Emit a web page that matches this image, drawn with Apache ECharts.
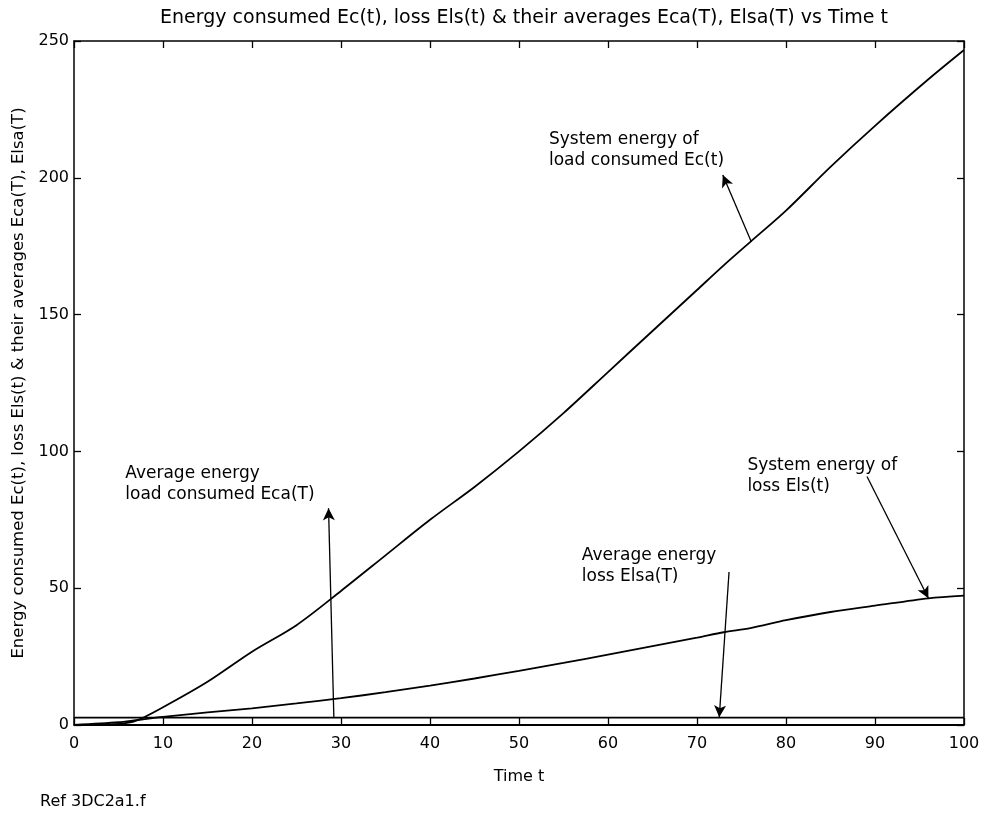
<!DOCTYPE html>
<html>
<head>
<meta charset="utf-8">
<script src="https://cdn.jsdelivr.net/npm/echarts@6/dist/echarts.min.js"></script>
<style>
  html, body { margin: 0; padding: 0; background: #fff; }
  #chart { width: 983px; height: 814px; }
</style>
</head>
<body>
<div id="chart"></div>
<script>
// Time samples and the four energy traces
const timeT = [0, 5, 7, 10, 15, 20, 25, 30, 35, 40, 45, 50, 55, 60, 65, 70, 73, 76, 80, 85, 90, 96, 100];
const energyConsumed = [0, 0.4, 1.6, 6.5, 15.8, 26.8, 36.5, 49, 62, 75, 87, 100, 114, 129, 144, 159, 168, 176.6, 188, 204, 219, 236, 246.7];
const energyLoss = [0, 1, 1.8, 3, 4.6, 6.1, 7.9, 9.8, 12, 14.4, 17, 19.8, 22.7, 25.7, 28.8, 31.9, 33.9, 35.4, 38.3, 41.3, 43.6, 46.3, 47.3];
const avgTime = [0, 100];
const avgConsumed = [2.7, 2.7];
const avgLoss = [0, 0];

// Axis ticks
const xTicks = [0, 10, 20, 30, 40, 50, 60, 70, 80, 90, 100];
const yTicks = [0, 50, 100, 150, 200, 250];

// Annotation text (anchor = top-left corner, in data units) and arrows [tail, head]
const noteText = [
  'System energy of\nload consumed Ec(t)',
  'Average energy\nload consumed Eca(T)',
  'Average energy\nloss Elsa(T)',
  'System energy of\nloss Els(t)'
];
const noteAnchor = [[52.8, 219.7], [5.2, 97.6], [56.5, 67.6], [75.1, 100.5]];
const arrowTail = [[76.1, 176.6], [29.2, 2.6], [73.6, 55.9], [89.1, 90.8]];
const arrowHead = [[72.9, 201], [28.6, 79.2], [72.5, 2.8], [96.0, 46.3]];

const FONT = '"DejaVu Sans", "Liberation Sans", Arial, sans-serif';
const zip = (xs, ys) => xs.map((x, i) => [x, ys[i]]);

const chart = echarts.init(document.getElementById('chart'), null, { renderer: 'canvas' });

const lineStyle = { color: '#000', width: 1.8 };
const curve = (name, xs, ys) => ({
  name, type: 'line', data: zip(xs, ys), showSymbol: false, smooth: 0.3,
  lineStyle, animation: false, silent: true, z: 3
});

const arrows = {
  name: 'arrows', type: 'line', data: [], silent: true, animation: false,
  markLine: {
    silent: true, animation: false,
    symbol: ['none', 'arrow'], symbolSize: [9, 12],
    itemStyle: { color: '#000' },
    lineStyle: { color: '#000', width: 1.3, type: 'solid' },
    label: { show: false },
    data: arrowTail.map((t, i) => [{ coord: t }, { coord: arrowHead[i] }])
  }
};

const notes = {
  name: 'notes', type: 'scatter', symbolSize: 0, silent: true, animation: false,
  itemStyle: { color: '#000', opacity: 1 },
  data: noteAnchor.map((p, i) => ({ value: p, label: { formatter: noteText[i] } })),
  label: {
    show: true, position: 'insideTopLeft', align: 'left', verticalAlign: 'top',
    offset: [0, 0], color: '#000', opacity: 1, fontFamily: FONT, fontSize: 17, lineHeight: 21
  },
  emphasis: { disabled: true }
};

const axisCommon = {
  min: 0,
  axisLine: { show: true, onZero: false, lineStyle: { color: '#000', width: 1.5 } },
  axisTick: { show: true, inside: true, length: 7, lineStyle: { color: '#000', width: 1.3 } },
  splitLine: { show: false }
};

chart.setOption({
  backgroundColor: '#fff',
  animation: false,
  title: {
    text: 'Energy consumed Ec(t), loss Els(t) & their averages Eca(T), Elsa(T) vs Time t',
    left: 519, top: 4, textAlign: 'center',
    textStyle: { fontFamily: FONT, fontSize: 19, fontWeight: 'normal', color: '#000' }
  },
  graphic: [{
    type: 'text', left: 40, top: 794,
    style: { text: 'Ref 3DC2a1.f', font: '16px ' + FONT, fill: '#000' }
  }],
  grid: { left: 74, right: 19, top: 41, bottom: 89, show: false },
  xAxis: [
    Object.assign({}, axisCommon, {
      type: 'value', max: 100, interval: 10, position: 'bottom',
      name: 'Time t', nameLocation: 'middle', nameGap: 44,
      nameTextStyle: { fontFamily: FONT, fontSize: 16, color: '#000' },
      axisLabel: { color: '#000', fontFamily: FONT, fontSize: 16, margin: 11,
        formatter: v => xTicks.includes(v) ? String(v) : '' }
    }),
    Object.assign({}, axisCommon, {
      type: 'value', max: 100, interval: 10, position: 'top', axisLabel: { show: false }
    })
  ],
  yAxis: [
    Object.assign({}, axisCommon, {
      type: 'value', max: 250, interval: 50, position: 'left',
      name: 'Energy consumed Ec(t), loss Els(t) & their averages Eca(T), Elsa(T)',
      nameLocation: 'middle', nameGap: 46, nameRotate: 90,
      nameTextStyle: { fontFamily: FONT, fontSize: 16.5, color: '#000' },
      axisLabel: { color: '#000', fontFamily: FONT, fontSize: 16, margin: 5,
        formatter: v => yTicks.includes(v) ? String(v) : '' }
    }),
    Object.assign({}, axisCommon, {
      type: 'value', max: 250, interval: 50, position: 'right', axisLabel: { show: false }
    })
  ],
  series: [
    curve('Ec(t)', timeT, energyConsumed),
    curve('Els(t)', timeT, energyLoss),
    curve('Eca(T)', avgTime, avgConsumed),
    curve('Elsa(T)', avgTime, avgLoss),
    arrows,
    notes
  ]
});
</script>
</body>
</html>
